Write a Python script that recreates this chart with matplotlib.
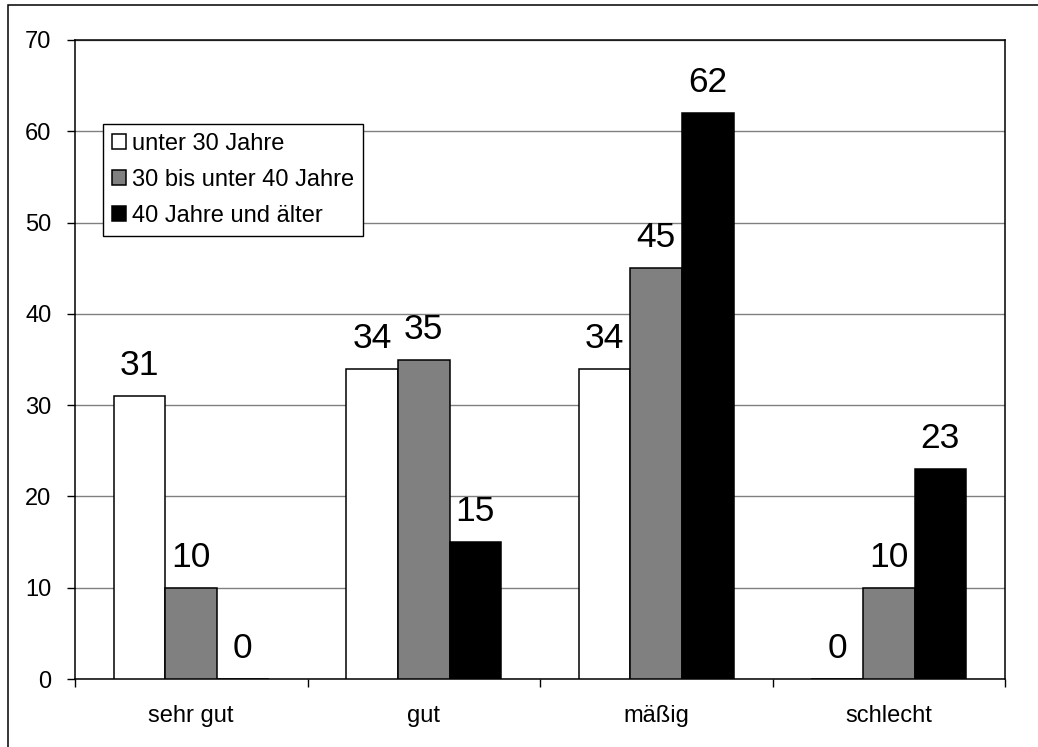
import numpy as np
import matplotlib
matplotlib.use("Agg")
import matplotlib.pyplot as plt
from matplotlib.patches import Rectangle

plt.rcParams['font.family'] = ['Liberation Sans', 'DejaVu Sans']

categories = ["sehr gut", "gut", "mäßig", "schlecht"]
series_names = ["unter 30 Jahre", "30 bis unter 40 Jahre", "40 Jahre und älter"]
under_30 = [31, 34, 34, 0]
from_30_to_40 = [10, 35, 45, 10]
over_40 = [0, 15, 62, 23]
y_ticks = [0, 10, 20, 30, 40, 50, 60, 70]

series = [under_30, from_30_to_40, over_40]
colors = ["white", "#808080", "black"]

W, H = 1038, 747
fig = plt.figure(figsize=(W / 100, H / 100), dpi=100)
ax = fig.add_axes([75 / W, 1 - 679 / H, (1005 - 75) / W, (679 - 40) / H])

x = np.arange(len(categories))
bw = 1 / 4.5
for i, (vals, col, name) in enumerate(zip(series, colors, series_names)):
    bars = ax.bar(x + (i - 1) * bw, vals, bw, color=col, edgecolor="black",
                  linewidth=1.1, label=name, zorder=3)
    for b, v in zip(bars, vals):
        ax.annotate(str(v), (b.get_x() + b.get_width() / 2, v),
                    xytext=(0, 15), textcoords="offset points",
                    ha="center", va="baseline", fontsize=25.5)

ax.set_xlim(-0.5, len(categories) - 0.5)
ax.set_ylim(0, 70)
ax.set_yticks(y_ticks)
ax.yaxis.grid(True, color="#808080", linewidth=1, zorder=0)
ax.set_axisbelow(True)

# category boundaries get the tick marks, names sit between them
ax.set_xticks(np.arange(len(categories) + 1) - 0.5)
ax.set_xticklabels([])
ax.set_xticks(x, minor=True)
ax.set_xticklabels(categories, minor=True, fontsize=17)
ax.tick_params(axis="x", which="minor", length=0, pad=19)
ax.tick_params(axis="x", which="major", length=6, width=1, direction="out")
ax.tick_params(axis="y", length=6, width=1, direction="out", pad=11, labelsize=17)

for s in ax.spines.values():
    s.set_linewidth(1.1)
    s.set_color("black")

leg = ax.legend(loc="upper left", bbox_to_anchor=(103 / W, 1 - 124 / H),
                bbox_transform=fig.transFigure, borderaxespad=0,
                fontsize=17, frameon=True, fancybox=False, framealpha=1,
                handlelength=0.6, handleheight=0.6, handletextpad=0.25,
                labelspacing=0.6, borderpad=0.38)
leg.get_frame().set_edgecolor("black")
leg.get_frame().set_linewidth(1)

# chart area frame
fig.patches.append(Rectangle((8 / W, -0.1), 1.2, 1 - 5 / H + 0.1,
                             transform=fig.transFigure, fill=False,
                             edgecolor="black", linewidth=1.1))

fig.savefig("out.png", dpi=100)
